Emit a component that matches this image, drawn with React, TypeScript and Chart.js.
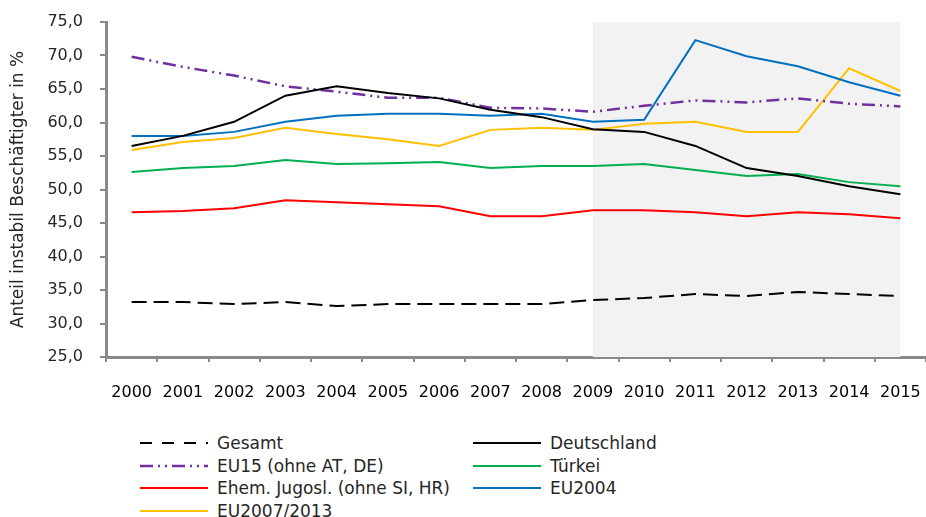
import React, { useEffect, useRef } from "react";
import { Chart, registerables } from "chart.js";

Chart.register(...registerables);

const years = ["2000", "2001", "2002", "2003", "2004", "2005", "2006", "2007", "2008", "2009", "2010", "2011", "2012", "2013", "2014", "2015"];
const gesamt = [33.2, 33.2, 32.9, 33.2, 32.6, 32.9, 32.9, 32.9, 32.9, 33.5, 33.8, 34.4, 34.1, 34.7, 34.4, 34.1];
const deutschland = [56.5, 58.0, 60.1, 64.0, 65.4, 64.4, 63.6, 61.9, 60.8, 59.0, 58.6, 56.5, 53.2, 52.0, 50.5, 49.3];
const eu15 = [69.8, 68.3, 67.0, 65.4, 64.6, 63.7, 63.7, 62.2, 62.1, 61.6, 62.5, 63.3, 63.0, 63.6, 62.8, 62.4];
const tuerkei = [52.6, 53.2, 53.5, 54.4, 53.8, 53.9, 54.1, 53.2, 53.5, 53.5, 53.8, 52.9, 52.0, 52.3, 51.1, 50.5];
const jugosl = [46.6, 46.8, 47.2, 48.4, 48.1, 47.8, 47.5, 46.0, 46.0, 46.9, 46.9, 46.6, 46.0, 46.6, 46.3, 45.7];
const eu2004 = [58.0, 58.0, 58.6, 60.1, 61.0, 61.3, 61.3, 61.0, 61.3, 60.1, 60.4, 72.3, 69.9, 68.4, 66.0, 64.0];
const eu2007 = [55.9, 57.1, 57.7, 59.2, 58.3, 57.5, 56.5, 58.9, 59.2, 58.9, 59.8, 60.1, 58.6, 58.6, 68.1, 64.7];

const shadeFrom = "2009";
const shadeTo = "2015";
const yTicks = [25, 30, 35, 40, 45, 50, 55, 60, 65, 70, 75];

const FONT = "'DejaVu Sans', sans-serif";

type Series = { label: string; data: number[]; color: string; dash: number[]; legendDash: number[]; width: number };
const series: Series[] = [
  { label: "Gesamt", data: gesamt, color: "#000000", dash: [15, 7], legendDash: [12, 10], width: 2 },
  { label: "Deutschland", data: deutschland, color: "#000000", dash: [], legendDash: [], width: 2 },
  { label: "EU15 (ohne AT, DE)", data: eu15, color: "#7030A0", dash: [13, 5, 2, 5, 2, 5], legendDash: [13, 5, 2, 5, 2, 5], width: 2.5 },
  { label: "Türkei", data: tuerkei, color: "#00B050", dash: [], legendDash: [], width: 2 },
  { label: "Ehem. Jugosl. (ohne SI, HR)", data: jugosl, color: "#FF0000", dash: [], legendDash: [], width: 2 },
  { label: "EU2004", data: eu2004, color: "#0070C0", dash: [], legendDash: [], width: 2 },
  { label: "EU2007/2013", data: eu2007, color: "#FFC000", dash: [], legendDash: [], width: 2 },
];

const shadePlugin = {
  id: "shade",
  beforeDatasetsDraw(chart: any) {
    const { ctx, chartArea, scales } = chart;
    const x0 = scales.x.getPixelForValue(years.indexOf(shadeFrom));
    const x1 = scales.x.getPixelForValue(years.indexOf(shadeTo));
    ctx.save();
    ctx.fillStyle = "#F2F2F2";
    ctx.fillRect(x0, chartArea.top, x1 - x0, chartArea.bottom - chartArea.top);
    ctx.restore();
  },
};

export default function App() {
  const ref = useRef<HTMLCanvasElement>(null);
  useEffect(() => {
    const chart = new Chart(ref.current!, {
      type: "line",
      data: {
        labels: years,
        datasets: series.map((s) => ({
          label: s.label,
          data: s.data,
          borderColor: s.color,
          backgroundColor: s.color,
          borderDash: s.dash,
          borderWidth: s.width,
          pointRadius: 0,
          tension: 0,
          fill: false,
        })),
      },
      options: {
        animation: false,
        responsive: false,
        maintainAspectRatio: false,
        layout: { padding: { top: 22, right: 0, left: 0, bottom: 0 } },
        plugins: { legend: { display: false }, tooltip: { enabled: false } },
        scales: {
          x: {
            type: "category",
            offset: true,
            afterFit: (scale: any) => {
              scale.height = 420 - 357;
              scale.paddingLeft = 0;
              scale.paddingRight = 0;
            },
            grid: { display: true, offset: true, drawOnChartArea: false, drawTicks: true, tickLength: 5, color: "#898989", lineWidth: 2 },
            border: { color: "#898989", width: 3 },
            ticks: {
              color: "#000000",
              font: { family: FONT, size: 16 },
              padding: 21,
              maxRotation: 0,
              autoSkip: false,
            },
          },
          y: {
            min: 25,
            max: 75,
            afterBuildTicks: (scale: any) => {
              scale.ticks = yTicks.map((v) => ({ value: v }));
            },
            afterFit: (scale: any) => {
              scale.width = 106;
              scale.paddingTop = 0;
              scale.paddingBottom = 0;
            },
            grid: { display: true, drawOnChartArea: false, drawTicks: true, tickLength: 6, color: "#898989", lineWidth: 2 },
            border: { color: "#898989", width: 3 },
            title: {
              display: true,
              text: "Anteil instabil Beschäftigter in %",
              color: "#262626",
              font: { family: FONT, size: 17 },
              padding: { top: 8, bottom: 0 },
            },
            ticks: {
              color: "#262626",
              font: { family: FONT, size: 16 },
              padding: 17,
              callback: (v: any) => Number(v).toFixed(1).replace(".", ","),
            },
          },
        },
      },
      plugins: [shadePlugin],
    });
    return () => chart.destroy();
  }, []);

  const legendPos = [
    { col: 0, row: 0 },
    { col: 1, row: 0 },
    { col: 0, row: 1 },
    { col: 1, row: 1 },
    { col: 0, row: 2 },
    { col: 1, row: 2 },
    { col: 0, row: 3 },
  ];
  const colX = [140, 473];
  const rowY = [443, 465.5, 488, 510.5];

  return (
    <div style={{ position: "fixed", left: 0, top: 0, width: 926, height: 517, background: "#fff", overflow: "hidden" }}>
      <canvas ref={ref} width={926} height={420} style={{ position: "absolute", left: 0, top: 0 }} />
      {series.map((s, i) => {
        const p = legendPos[i];
        return (
          <div
            key={s.label}
            style={{
              position: "absolute",
              left: colX[p.col],
              top: rowY[p.row] - 11,
              height: 22,
              display: "flex",
              alignItems: "center",
              fontFamily: FONT,
              fontSize: 17,
              color: "#262626",
              whiteSpace: "nowrap",
            }}
          >
            <svg width={69} height={6} style={{ marginRight: 8, flex: "none" }}>
              <line
                x1={0}
                y1={3}
                x2={68}
                y2={3}
                stroke={s.color}
                strokeWidth={s.width}
                strokeDasharray={s.legendDash.length ? s.legendDash.join(",") : undefined}
              />
            </svg>
            <span>{s.label}</span>
          </div>
        );
      })}
    </div>
  );
}
